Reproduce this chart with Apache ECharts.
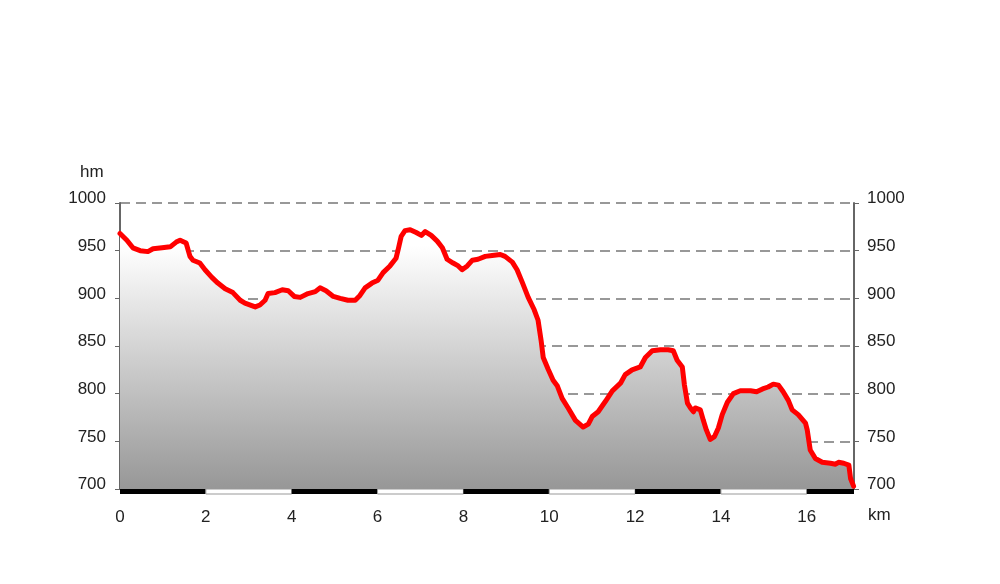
<!DOCTYPE html>
<html><head><meta charset="utf-8">
<script src="https://cdn.jsdelivr.net/npm/echarts@6/dist/echarts.min.js"></script>
<style>html,body{margin:0;padding:0;background:#fff}#c{width:1000px;height:584px}</style>
</head><body><div id="c"></div>
<script>
var distKm = [0,0.16,0.30,0.47,0.65,0.77,0.98,1.17,1.31,1.40,1.54,1.63,1.70,1.86,1.98,2.14,2.28,2.45,2.63,2.80,2.91,3.15,3.26,3.38,3.45,3.61,3.78,3.92,4.06,4.20,4.38,4.55,4.66,4.80,4.97,5.13,5.31,5.48,5.59,5.71,5.87,6.01,6.13,6.29,6.43,6.48,6.55,6.64,6.76,6.90,7.02,7.11,7.25,7.39,7.51,7.62,7.76,7.88,7.97,8.09,8.21,8.34,8.51,8.67,8.86,8.97,9.14,9.25,9.37,9.51,9.65,9.74,9.81,9.86,9.98,10.09,10.19,10.30,10.44,10.61,10.79,10.91,11.00,11.14,11.31,11.47,11.66,11.77,11.93,12.12,12.24,12.40,12.59,12.77,12.89,12.98,13.10,13.15,13.22,13.29,13.36,13.40,13.52,13.59,13.66,13.75,13.85,13.94,14.03,14.15,14.29,14.45,14.69,14.83,14.97,15.10,15.22,15.34,15.45,15.57,15.66,15.80,15.97,16.01,16.08,16.20,16.36,16.55,16.67,16.74,16.86,16.98,17.02,17.09];
var elevHm = [968,961,953,950,949,952,953,954,959,961,958,944,940,937,930,922,916,910,906,898,895,891,893,898,905,906,909,908,902,901,905,907,911,908,902,900,898,898,903,911,916,919,927,934,942,951,965,971,972,969,966,970,966,960,953,941,937,934,930,934,940,941,944,945,946,944,938,930,917,901,888,877,856,838,825,814,808,795,785,772,765,768,776,781,792,803,811,820,825,828,838,845,846,846,845,835,828,809,790,785,781,785,783,772,762,752,755,764,778,791,800,803,803,802,805,807,810,809,802,793,783,778,769,762,741,732,728,727,726,728,727,725,711,703];
var xTicks = [0,2,4,6,8,10,12,14,16];
var yTicks = [700,750,800,850,900,950,1000];
var xMaxKm = 17.1;
var yUnit = 'hm', xUnit = 'km';

var chart = echarts.init(document.getElementById('c'));
var pts = distKm.map(function(d,i){return [d, elevHm[i]];});
var band = xTicks.map(function(s,i){return [s, Math.min(s+2, xMaxKm), i%2];});
var FONT = 'Liberation Sans, Arial, sans-serif';
var txt = {color:'#222', fontSize:17, fontFamily:FONT};
var yFmt = function(v){return yTicks.indexOf(v)>=0 ? String(v) : '';};

chart.setOption({
  animation:false,
  grid:{left:120, right:146, top:203, bottom:95, containLabel:false},
  xAxis:{type:'value', min:0, max:xMaxKm, interval:2,
    axisLine:{show:false}, axisTick:{show:false}, splitLine:{show:false},
    axisLabel:Object.assign({margin:20, showMaxLabel:false,
      formatter:function(v){return xTicks.indexOf(v)>=0 ? String(v) : '';}}, txt)},
  yAxis:[
    {type:'value', min:700, max:1000, interval:50, position:'left',
     axisLine:{show:true, lineStyle:{color:'#666', width:2}},
     axisTick:{show:true, length:5, lineStyle:{color:'#666'}},
     axisLabel:Object.assign({margin:14, formatter:yFmt, verticalAlign:'bottom', lineHeight:9}, txt),
     splitLine:{show:true, lineStyle:{color:'#777', width:1.5, type:[10,6]}}},
    {type:'value', min:700, max:1000, interval:50, position:'right',
     axisLine:{show:true, lineStyle:{color:'#666', width:2}},
     axisTick:{show:true, length:5, lineStyle:{color:'#666'}},
     axisLabel:Object.assign({margin:13, formatter:yFmt, verticalAlign:'bottom', lineHeight:9}, txt),
     splitLine:{show:false}}
  ],
  graphic:[
    {type:'text', left:80, top:164, style:{text:yUnit, fill:'#222', font:'17px '+FONT}},
    {type:'text', left:868, top:507, style:{text:xUnit, fill:'#222', font:'17px '+FONT}}
  ],
  series:[
    {type:'line', data:pts, showSymbol:false, smooth:false, z:3,
     lineStyle:{color:'#ff0000', width:5, join:'round', cap:'round'},
     areaStyle:{origin:'start', opacity:1, color:new echarts.graphic.LinearGradient(0,203,0,489,[
        {offset:0,color:'#ffffff'},{offset:0.15,color:'#ffffff'},{offset:1,color:'#979797'}], true)}},
    {type:'custom', z:5, clip:false, data:band,
     renderItem:function(params, api){
       var p0 = api.coord([api.value(0), 700]);
       var p1 = api.coord([api.value(1), 700]);
       var black = api.value(2) === 0;
       return {type:'rect', shape:{x:p0[0], y:p0[1], width:p1[0]-p0[0], height:5},
         style:{fill: black ? '#000' : '#fff', stroke: black ? null : '#999', lineWidth: black ? 0 : 1}};
     }}
  ]
});
</script></body></html>
